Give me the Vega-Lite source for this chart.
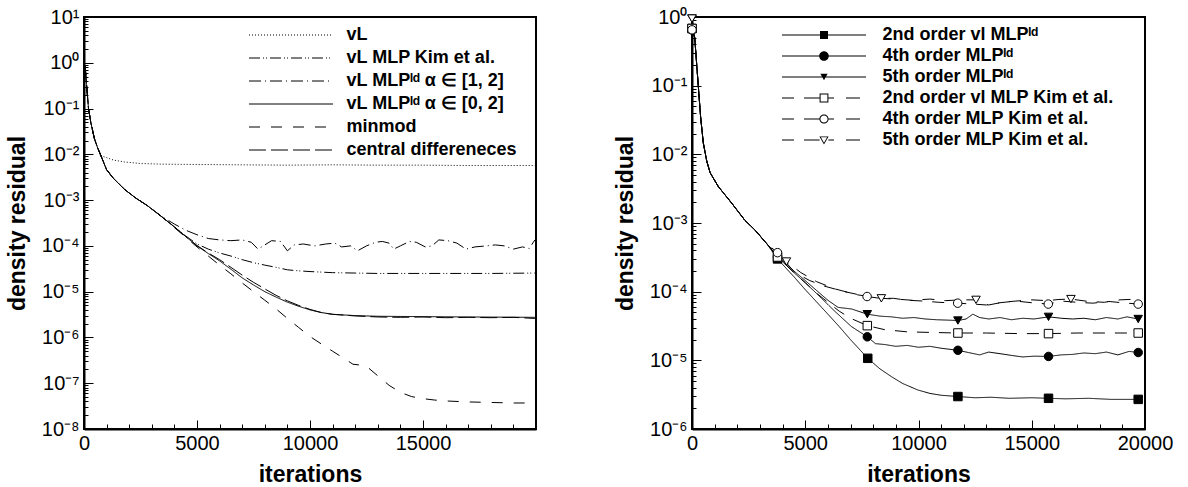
{
  "$schema": "https://vega.github.io/schema/vega-lite/v6.json",
  "padding": {"left": 5, "top": 6, "right": 0, "bottom": 0},
  "spacing": 75,
  "resolve": {
    "scale": {"strokeDash": "independent", "shape": "independent", "fill": "independent"},
    "legend": {"strokeDash": "independent", "shape": "independent", "fill": "independent"}
  },
  "datasets": {
    "left": [
      {"series":"vL","iter":0,"res":0.9},{"series":"vL","iter":50,"res":0.85},{"series":"vL","iter":100,"res":0.4},{"series":"vL","iter":200,"res":0.1},{"series":"vL","iter":300,"res":0.05},{"series":"vL","iter":460,"res":0.022},{"series":"vL","iter":600,"res":0.014},{"series":"vL","iter":750,"res":0.0093},{"series":"vL","iter":1000,"res":0.0085},{"series":"vL","iter":1300,"res":0.0075},{"series":"vL","iter":1800,"res":0.0068},{"series":"vL","iter":2500,"res":0.0063},{"series":"vL","iter":3500,"res":0.0061},{"series":"vL","iter":5000,"res":0.006},{"series":"vL","iter":7000,"res":0.0059},{"series":"vL","iter":9000,"res":0.0058},{"series":"vL","iter":11000,"res":0.0059},{"series":"vL","iter":13000,"res":0.0058},{"series":"vL","iter":15000,"res":0.0058},{"series":"vL","iter":17000,"res":0.0057},{"series":"vL","iter":19950,"res":0.0057},

      {"series":"vL MLP Kim et al.","iter":0,"res":0.9},{"series":"vL MLP Kim et al.","iter":50,"res":0.85},{"series":"vL MLP Kim et al.","iter":100,"res":0.4},{"series":"vL MLP Kim et al.","iter":200,"res":0.1},{"series":"vL MLP Kim et al.","iter":300,"res":0.05},{"series":"vL MLP Kim et al.","iter":460,"res":0.022},{"series":"vL MLP Kim et al.","iter":600,"res":0.014},{"series":"vL MLP Kim et al.","iter":750,"res":0.0093},{"series":"vL MLP Kim et al.","iter":1000,"res":0.0046},{"series":"vL MLP Kim et al.","iter":1300,"res":0.003},{"series":"vL MLP Kim et al.","iter":1800,"res":0.0017},{"series":"vL MLP Kim et al.","iter":2300,"res":0.0011},{"series":"vL MLP Kim et al.","iter":2800,"res":0.00076},{"series":"vL MLP Kim et al.","iter":3400,"res":0.00045},{"series":"vL MLP Kim et al.","iter":4000,"res":0.00026},{"series":"vL MLP Kim et al.","iter":4500,"res":0.000165},{"series":"vL MLP Kim et al.","iter":5000,"res":0.00011},{"series":"vL MLP Kim et al.","iter":5500,"res":8.5e-5},{"series":"vL MLP Kim et al.","iter":6000,"res":7e-5},{"series":"vL MLP Kim et al.","iter":6500,"res":6e-5},{"series":"vL MLP Kim et al.","iter":7000,"res":5e-5},{"series":"vL MLP Kim et al.","iter":7500,"res":4.3e-5},{"series":"vL MLP Kim et al.","iter":8000,"res":3.8e-5},{"series":"vL MLP Kim et al.","iter":8500,"res":3.4e-5},{"series":"vL MLP Kim et al.","iter":9000,"res":3.0e-5},{"series":"vL MLP Kim et al.","iter":9500,"res":2.85e-5},{"series":"vL MLP Kim et al.","iter":10000,"res":2.75e-5},{"series":"vL MLP Kim et al.","iter":11000,"res":2.6e-5},{"series":"vL MLP Kim et al.","iter":12000,"res":2.55e-5},{"series":"vL MLP Kim et al.","iter":13000,"res":2.5e-5},{"series":"vL MLP Kim et al.","iter":14000,"res":2.5e-5},{"series":"vL MLP Kim et al.","iter":16000,"res":2.5e-5},{"series":"vL MLP Kim et al.","iter":18000,"res":2.5e-5},{"series":"vL MLP Kim et al.","iter":19950,"res":2.55e-5},

      {"series":"vL MLPˡᵈ  α ∈ [1, 2]","iter":0,"res":0.9},{"series":"vL MLPˡᵈ  α ∈ [1, 2]","iter":50,"res":0.85},{"series":"vL MLPˡᵈ  α ∈ [1, 2]","iter":100,"res":0.4},{"series":"vL MLPˡᵈ  α ∈ [1, 2]","iter":200,"res":0.1},{"series":"vL MLPˡᵈ  α ∈ [1, 2]","iter":300,"res":0.05},{"series":"vL MLPˡᵈ  α ∈ [1, 2]","iter":460,"res":0.022},{"series":"vL MLPˡᵈ  α ∈ [1, 2]","iter":600,"res":0.014},{"series":"vL MLPˡᵈ  α ∈ [1, 2]","iter":750,"res":0.0093},{"series":"vL MLPˡᵈ  α ∈ [1, 2]","iter":1000,"res":0.0046},{"series":"vL MLPˡᵈ  α ∈ [1, 2]","iter":1300,"res":0.003},{"series":"vL MLPˡᵈ  α ∈ [1, 2]","iter":1800,"res":0.0017},{"series":"vL MLPˡᵈ  α ∈ [1, 2]","iter":2300,"res":0.0011},{"series":"vL MLPˡᵈ  α ∈ [1, 2]","iter":2800,"res":0.00076},{"series":"vL MLPˡᵈ  α ∈ [1, 2]","iter":3400,"res":0.00045},{"series":"vL MLPˡᵈ  α ∈ [1, 2]","iter":4000,"res":0.0003},{"series":"vL MLPˡᵈ  α ∈ [1, 2]","iter":4500,"res":0.00022},{"series":"vL MLPˡᵈ  α ∈ [1, 2]","iter":5000,"res":0.000175},{"series":"vL MLPˡᵈ  α ∈ [1, 2]","iter":5500,"res":0.000145},{"series":"vL MLPˡᵈ  α ∈ [1, 2]","iter":6000,"res":0.000135},{"series":"vL MLPˡᵈ  α ∈ [1, 2]","iter":6500,"res":0.00013},{"series":"vL MLPˡᵈ  α ∈ [1, 2]","iter":7000,"res":0.000135},{"series":"vL MLPˡᵈ  α ∈ [1, 2]","iter":7400,"res":0.00012},{"series":"vL MLPˡᵈ  α ∈ [1, 2]","iter":7700,"res":8.5e-5},{"series":"vL MLPˡᵈ  α ∈ [1, 2]","iter":8000,"res":0.000105},{"series":"vL MLPˡᵈ  α ∈ [1, 2]","iter":8300,"res":0.00013},{"series":"vL MLPˡᵈ  α ∈ [1, 2]","iter":8700,"res":0.000125},{"series":"vL MLPˡᵈ  α ∈ [1, 2]","iter":9000,"res":7.8e-5},{"series":"vL MLPˡᵈ  α ∈ [1, 2]","iter":9300,"res":0.000105},{"series":"vL MLPˡᵈ  α ∈ [1, 2]","iter":9700,"res":0.00011},{"series":"vL MLPˡᵈ  α ∈ [1, 2]","iter":10200,"res":0.0001},{"series":"vL MLPˡᵈ  α ∈ [1, 2]","iter":10700,"res":0.00011},{"series":"vL MLPˡᵈ  α ∈ [1, 2]","iter":11100,"res":0.000115},{"series":"vL MLPˡᵈ  α ∈ [1, 2]","iter":11400,"res":9.5e-5},{"series":"vL MLPˡᵈ  α ∈ [1, 2]","iter":11800,"res":0.0001},{"series":"vL MLPˡᵈ  α ∈ [1, 2]","iter":12100,"res":7.8e-5},{"series":"vL MLPˡᵈ  α ∈ [1, 2]","iter":12500,"res":0.0001},{"series":"vL MLPˡᵈ  α ∈ [1, 2]","iter":12900,"res":0.00012},{"series":"vL MLPˡᵈ  α ∈ [1, 2]","iter":13200,"res":0.000125},{"series":"vL MLPˡᵈ  α ∈ [1, 2]","iter":13500,"res":0.000115},{"series":"vL MLPˡᵈ  α ∈ [1, 2]","iter":13700,"res":8.5e-5},{"series":"vL MLPˡᵈ  α ∈ [1, 2]","iter":14000,"res":0.0001},{"series":"vL MLPˡᵈ  α ∈ [1, 2]","iter":14400,"res":0.000125},{"series":"vL MLPˡᵈ  α ∈ [1, 2]","iter":14700,"res":0.00012},{"series":"vL MLPˡᵈ  α ∈ [1, 2]","iter":15100,"res":9.5e-5},{"series":"vL MLPˡᵈ  α ∈ [1, 2]","iter":15400,"res":0.0001},{"series":"vL MLPˡᵈ  α ∈ [1, 2]","iter":15700,"res":0.000135},{"series":"vL MLPˡᵈ  α ∈ [1, 2]","iter":16100,"res":0.00013},{"series":"vL MLPˡᵈ  α ∈ [1, 2]","iter":16500,"res":0.000115},{"series":"vL MLPˡᵈ  α ∈ [1, 2]","iter":16900,"res":8.5e-5},{"series":"vL MLPˡᵈ  α ∈ [1, 2]","iter":17300,"res":9.5e-5},{"series":"vL MLPˡᵈ  α ∈ [1, 2]","iter":17800,"res":0.0001},{"series":"vL MLPˡᵈ  α ∈ [1, 2]","iter":18200,"res":0.000105},{"series":"vL MLPˡᵈ  α ∈ [1, 2]","iter":18600,"res":0.0001},{"series":"vL MLPˡᵈ  α ∈ [1, 2]","iter":19000,"res":8.5e-5},{"series":"vL MLPˡᵈ  α ∈ [1, 2]","iter":19400,"res":9.5e-5},{"series":"vL MLPˡᵈ  α ∈ [1, 2]","iter":19700,"res":8.8e-5},{"series":"vL MLPˡᵈ  α ∈ [1, 2]","iter":19950,"res":0.000135},

      {"series":"vL MLPˡᵈ  α ∈ [0, 2]","iter":0,"res":0.9},{"series":"vL MLPˡᵈ  α ∈ [0, 2]","iter":50,"res":0.85},{"series":"vL MLPˡᵈ  α ∈ [0, 2]","iter":100,"res":0.4},{"series":"vL MLPˡᵈ  α ∈ [0, 2]","iter":200,"res":0.1},{"series":"vL MLPˡᵈ  α ∈ [0, 2]","iter":300,"res":0.05},{"series":"vL MLPˡᵈ  α ∈ [0, 2]","iter":460,"res":0.022},{"series":"vL MLPˡᵈ  α ∈ [0, 2]","iter":600,"res":0.014},{"series":"vL MLPˡᵈ  α ∈ [0, 2]","iter":750,"res":0.0093},{"series":"vL MLPˡᵈ  α ∈ [0, 2]","iter":1000,"res":0.0046},{"series":"vL MLPˡᵈ  α ∈ [0, 2]","iter":1300,"res":0.003},{"series":"vL MLPˡᵈ  α ∈ [0, 2]","iter":1800,"res":0.0017},{"series":"vL MLPˡᵈ  α ∈ [0, 2]","iter":2300,"res":0.0011},{"series":"vL MLPˡᵈ  α ∈ [0, 2]","iter":2800,"res":0.00076},{"series":"vL MLPˡᵈ  α ∈ [0, 2]","iter":3400,"res":0.00045},{"series":"vL MLPˡᵈ  α ∈ [0, 2]","iter":4000,"res":0.00026},{"series":"vL MLPˡᵈ  α ∈ [0, 2]","iter":4500,"res":0.00016},{"series":"vL MLPˡᵈ  α ∈ [0, 2]","iter":5000,"res":0.0001},{"series":"vL MLPˡᵈ  α ∈ [0, 2]","iter":5500,"res":6.8e-5},{"series":"vL MLPˡᵈ  α ∈ [0, 2]","iter":6000,"res":4.7e-5},{"series":"vL MLPˡᵈ  α ∈ [0, 2]","iter":6500,"res":3.1e-5},{"series":"vL MLPˡᵈ  α ∈ [0, 2]","iter":7000,"res":2e-5},{"series":"vL MLPˡᵈ  α ∈ [0, 2]","iter":7500,"res":1.4e-5},{"series":"vL MLPˡᵈ  α ∈ [0, 2]","iter":8000,"res":1e-5},{"series":"vL MLPˡᵈ  α ∈ [0, 2]","iter":8500,"res":7.6e-6},{"series":"vL MLPˡᵈ  α ∈ [0, 2]","iter":9000,"res":5.9e-6},{"series":"vL MLPˡᵈ  α ∈ [0, 2]","iter":9500,"res":4.8e-6},{"series":"vL MLPˡᵈ  α ∈ [0, 2]","iter":10000,"res":4e-6},{"series":"vL MLPˡᵈ  α ∈ [0, 2]","iter":10500,"res":3.5e-6},{"series":"vL MLPˡᵈ  α ∈ [0, 2]","iter":11000,"res":3.2e-6},{"series":"vL MLPˡᵈ  α ∈ [0, 2]","iter":12000,"res":3e-6},{"series":"vL MLPˡᵈ  α ∈ [0, 2]","iter":13000,"res":2.9e-6},{"series":"vL MLPˡᵈ  α ∈ [0, 2]","iter":15000,"res":2.85e-6},{"series":"vL MLPˡᵈ  α ∈ [0, 2]","iter":17000,"res":2.8e-6},{"series":"vL MLPˡᵈ  α ∈ [0, 2]","iter":19950,"res":2.75e-6},

      {"series":"minmod","iter":0,"res":0.9},{"series":"minmod","iter":50,"res":0.85},{"series":"minmod","iter":100,"res":0.4},{"series":"minmod","iter":200,"res":0.1},{"series":"minmod","iter":300,"res":0.05},{"series":"minmod","iter":460,"res":0.022},{"series":"minmod","iter":600,"res":0.014},{"series":"minmod","iter":750,"res":0.0093},{"series":"minmod","iter":1000,"res":0.0046},{"series":"minmod","iter":1300,"res":0.003},{"series":"minmod","iter":1800,"res":0.0017},{"series":"minmod","iter":2300,"res":0.0011},{"series":"minmod","iter":2800,"res":0.00076},{"series":"minmod","iter":3400,"res":0.00045},{"series":"minmod","iter":4000,"res":0.00025},{"series":"minmod","iter":4500,"res":0.000155},{"series":"minmod","iter":5000,"res":9.5e-5},{"series":"minmod","iter":5500,"res":6e-5},{"series":"minmod","iter":6000,"res":3.8e-5},{"series":"minmod","iter":6500,"res":2.45e-5},{"series":"minmod","iter":7000,"res":1.55e-5},{"series":"minmod","iter":7500,"res":1e-5},{"series":"minmod","iter":8000,"res":6.5e-6},{"series":"minmod","iter":8500,"res":4.2e-6},{"series":"minmod","iter":9000,"res":2.6e-6},{"series":"minmod","iter":9500,"res":1.65e-6},{"series":"minmod","iter":10000,"res":1.05e-6},{"series":"minmod","iter":10500,"res":7.2e-7},{"series":"minmod","iter":11000,"res":5e-7},{"series":"minmod","iter":11500,"res":3.5e-7},{"series":"minmod","iter":11900,"res":2.6e-7},{"series":"minmod","iter":12200,"res":2.5e-7},{"series":"minmod","iter":12500,"res":2.35e-7},{"series":"minmod","iter":13000,"res":1.45e-7},{"series":"minmod","iter":13500,"res":9e-8},{"series":"minmod","iter":14000,"res":6.3e-8},{"series":"minmod","iter":14500,"res":5.1e-8},{"series":"minmod","iter":15000,"res":4.6e-8},{"series":"minmod","iter":15500,"res":4.3e-8},{"series":"minmod","iter":16000,"res":4.1e-8},{"series":"minmod","iter":17000,"res":3.9e-8},{"series":"minmod","iter":18000,"res":3.8e-8},{"series":"minmod","iter":19000,"res":3.7e-8},{"series":"minmod","iter":19700,"res":3.7e-8},

      {"series":"central differeneces","iter":0,"res":0.9},{"series":"central differeneces","iter":50,"res":0.85},{"series":"central differeneces","iter":100,"res":0.4},{"series":"central differeneces","iter":200,"res":0.1},{"series":"central differeneces","iter":300,"res":0.05},{"series":"central differeneces","iter":460,"res":0.022},{"series":"central differeneces","iter":600,"res":0.014},{"series":"central differeneces","iter":750,"res":0.0093},{"series":"central differeneces","iter":1000,"res":0.0046},{"series":"central differeneces","iter":1300,"res":0.003},{"series":"central differeneces","iter":1800,"res":0.0017},{"series":"central differeneces","iter":2300,"res":0.0011},{"series":"central differeneces","iter":2800,"res":0.00076},{"series":"central differeneces","iter":3400,"res":0.00045},{"series":"central differeneces","iter":4000,"res":0.00026},{"series":"central differeneces","iter":4500,"res":0.00016},{"series":"central differeneces","iter":5000,"res":0.000102},{"series":"central differeneces","iter":5500,"res":7e-5},{"series":"central differeneces","iter":6000,"res":5e-5},{"series":"central differeneces","iter":6500,"res":3.4e-5},{"series":"central differeneces","iter":7000,"res":2.3e-5},{"series":"central differeneces","iter":7500,"res":1.6e-5},{"series":"central differeneces","iter":8000,"res":1.15e-5},{"series":"central differeneces","iter":8500,"res":8.3e-6},{"series":"central differeneces","iter":9000,"res":6.3e-6},{"series":"central differeneces","iter":9500,"res":5e-6},{"series":"central differeneces","iter":10000,"res":4.1e-6},{"series":"central differeneces","iter":10500,"res":3.5e-6},{"series":"central differeneces","iter":11000,"res":3.2e-6},{"series":"central differeneces","iter":12000,"res":2.95e-6},{"series":"central differeneces","iter":13000,"res":2.8e-6},{"series":"central differeneces","iter":14000,"res":2.75e-6},{"series":"central differeneces","iter":15000,"res":2.8e-6},{"series":"central differeneces","iter":16000,"res":2.7e-6},{"series":"central differeneces","iter":17000,"res":2.75e-6},{"series":"central differeneces","iter":18000,"res":2.7e-6},{"series":"central differeneces","iter":19000,"res":2.75e-6},{"series":"central differeneces","iter":19950,"res":2.6e-6}
    ],
    "right": [
      {"series":"2nd order vl MLPˡᵈ","iter":0,"res":0.68},{"series":"2nd order vl MLPˡᵈ","iter":120,"res":0.5},{"series":"2nd order vl MLPˡᵈ","iter":200,"res":0.22},{"series":"2nd order vl MLPˡᵈ","iter":280,"res":0.097},{"series":"2nd order vl MLPˡᵈ","iter":380,"res":0.035},{"series":"2nd order vl MLPˡᵈ","iter":500,"res":0.0146},{"series":"2nd order vl MLPˡᵈ","iter":650,"res":0.008},{"series":"2nd order vl MLPˡᵈ","iter":800,"res":0.0054},{"series":"2nd order vl MLPˡᵈ","iter":1160,"res":0.0034},{"series":"2nd order vl MLPˡᵈ","iter":1750,"res":0.00195},{"series":"2nd order vl MLPˡᵈ","iter":2330,"res":0.0011},{"series":"2nd order vl MLPˡᵈ","iter":2780,"res":0.00079},{"series":"2nd order vl MLPˡᵈ","iter":3300,"res":0.0005},{"series":"2nd order vl MLPˡᵈ","iter":3775,"res":0.0003},{"series":"2nd order vl MLPˡᵈ","iter":4500,"res":0.000165},{"series":"2nd order vl MLPˡᵈ","iter":5000,"res":0.000107},{"series":"2nd order vl MLPˡᵈ","iter":5500,"res":7.1e-5},{"series":"2nd order vl MLPˡᵈ","iter":6000,"res":4.7e-5},{"series":"2nd order vl MLPˡᵈ","iter":6500,"res":3.1e-5},{"series":"2nd order vl MLPˡᵈ","iter":7000,"res":2e-5},{"series":"2nd order vl MLPˡᵈ","iter":7760,"res":1.07e-5},{"series":"2nd order vl MLPˡᵈ","iter":8300,"res":7.5e-6},{"series":"2nd order vl MLPˡᵈ","iter":8800,"res":5.8e-6},{"series":"2nd order vl MLPˡᵈ","iter":9300,"res":4.6e-6},{"series":"2nd order vl MLPˡᵈ","iter":9970,"res":3.7e-6},{"series":"2nd order vl MLPˡᵈ","iter":10500,"res":3.3e-6},{"series":"2nd order vl MLPˡᵈ","iter":11000,"res":3.1e-6},{"series":"2nd order vl MLPˡᵈ","iter":11740,"res":2.97e-6},{"series":"2nd order vl MLPˡᵈ","iter":12500,"res":2.85e-6},{"series":"2nd order vl MLPˡᵈ","iter":13200,"res":2.9e-6},{"series":"2nd order vl MLPˡᵈ","iter":14000,"res":2.8e-6},{"series":"2nd order vl MLPˡᵈ","iter":15000,"res":2.85e-6},{"series":"2nd order vl MLPˡᵈ","iter":15740,"res":2.8e-6},{"series":"2nd order vl MLPˡᵈ","iter":16500,"res":2.75e-6},{"series":"2nd order vl MLPˡᵈ","iter":17500,"res":2.8e-6},{"series":"2nd order vl MLPˡᵈ","iter":18500,"res":2.7e-6},{"series":"2nd order vl MLPˡᵈ","iter":19700,"res":2.7e-6},

      {"series":"4th order MLPˡᵈ","iter":0,"res":0.65},{"series":"4th order MLPˡᵈ","iter":120,"res":0.5},{"series":"4th order MLPˡᵈ","iter":200,"res":0.22},{"series":"4th order MLPˡᵈ","iter":280,"res":0.097},{"series":"4th order MLPˡᵈ","iter":380,"res":0.035},{"series":"4th order MLPˡᵈ","iter":500,"res":0.0146},{"series":"4th order MLPˡᵈ","iter":650,"res":0.008},{"series":"4th order MLPˡᵈ","iter":800,"res":0.0054},{"series":"4th order MLPˡᵈ","iter":1160,"res":0.0034},{"series":"4th order MLPˡᵈ","iter":1750,"res":0.00195},{"series":"4th order MLPˡᵈ","iter":2330,"res":0.0011},{"series":"4th order MLPˡᵈ","iter":2780,"res":0.00079},{"series":"4th order MLPˡᵈ","iter":3300,"res":0.0005},{"series":"4th order MLPˡᵈ","iter":3775,"res":0.00032},{"series":"4th order MLPˡᵈ","iter":4500,"res":0.00019},{"series":"4th order MLPˡᵈ","iter":5000,"res":0.000135},{"series":"4th order MLPˡᵈ","iter":5560,"res":9e-5},{"series":"4th order MLPˡᵈ","iter":6300,"res":5.2e-5},{"series":"4th order MLPˡᵈ","iter":7040,"res":3.1e-5},{"series":"4th order MLPˡᵈ","iter":7740,"res":2.2e-5},{"series":"4th order MLPˡᵈ","iter":8100,"res":1.75e-5},{"series":"4th order MLPˡᵈ","iter":8500,"res":1.7e-5},{"series":"4th order MLPˡᵈ","iter":9000,"res":1.6e-5},{"series":"4th order MLPˡᵈ","iter":9500,"res":1.65e-5},{"series":"4th order MLPˡᵈ","iter":10000,"res":1.55e-5},{"series":"4th order MLPˡᵈ","iter":10500,"res":1.6e-5},{"series":"4th order MLPˡᵈ","iter":11000,"res":1.5e-5},{"series":"4th order MLPˡᵈ","iter":11740,"res":1.4e-5},{"series":"4th order MLPˡᵈ","iter":12200,"res":1.3e-5},{"series":"4th order MLPˡᵈ","iter":12700,"res":1.2e-5},{"series":"4th order MLPˡᵈ","iter":13100,"res":1.32e-5},{"series":"4th order MLPˡᵈ","iter":13600,"res":1.25e-5},{"series":"4th order MLPˡᵈ","iter":14100,"res":1.18e-5},{"series":"4th order MLPˡᵈ","iter":14600,"res":1.12e-5},{"series":"4th order MLPˡᵈ","iter":15100,"res":1.15e-5},{"series":"4th order MLPˡᵈ","iter":15740,"res":1.14e-5},{"series":"4th order MLPˡᵈ","iter":16300,"res":1.2e-5},{"series":"4th order MLPˡᵈ","iter":16800,"res":1.22e-5},{"series":"4th order MLPˡᵈ","iter":17300,"res":1.28e-5},{"series":"4th order MLPˡᵈ","iter":17800,"res":1.25e-5},{"series":"4th order MLPˡᵈ","iter":18300,"res":1.32e-5},{"series":"4th order MLPˡᵈ","iter":18800,"res":1.2e-5},{"series":"4th order MLPˡᵈ","iter":19300,"res":1.35e-5},{"series":"4th order MLPˡᵈ","iter":19700,"res":1.3e-5},

      {"series":"5th order MLPˡᵈ","iter":0,"res":0.95},{"series":"5th order MLPˡᵈ","iter":120,"res":0.5},{"series":"5th order MLPˡᵈ","iter":200,"res":0.22},{"series":"5th order MLPˡᵈ","iter":280,"res":0.097},{"series":"5th order MLPˡᵈ","iter":380,"res":0.035},{"series":"5th order MLPˡᵈ","iter":500,"res":0.0146},{"series":"5th order MLPˡᵈ","iter":650,"res":0.008},{"series":"5th order MLPˡᵈ","iter":800,"res":0.0054},{"series":"5th order MLPˡᵈ","iter":1160,"res":0.0034},{"series":"5th order MLPˡᵈ","iter":1750,"res":0.00195},{"series":"5th order MLPˡᵈ","iter":2330,"res":0.0011},{"series":"5th order MLPˡᵈ","iter":2780,"res":0.00079},{"series":"5th order MLPˡᵈ","iter":3300,"res":0.0005},{"series":"5th order MLPˡᵈ","iter":3775,"res":0.00033},{"series":"5th order MLPˡᵈ","iter":4500,"res":0.0002},{"series":"5th order MLPˡᵈ","iter":5000,"res":0.000145},{"series":"5th order MLPˡᵈ","iter":5560,"res":0.0001},{"series":"5th order MLPˡᵈ","iter":6000,"res":7.5e-5},{"series":"5th order MLPˡᵈ","iter":6450,"res":5.9e-5},{"series":"5th order MLPˡᵈ","iter":7040,"res":5.6e-5},{"series":"5th order MLPˡᵈ","iter":7740,"res":4.7e-5},{"series":"5th order MLPˡᵈ","iter":8300,"res":4.4e-5},{"series":"5th order MLPˡᵈ","iter":8800,"res":4.3e-5},{"series":"5th order MLPˡᵈ","iter":9300,"res":4.1e-5},{"series":"5th order MLPˡᵈ","iter":9800,"res":4.2e-5},{"series":"5th order MLPˡᵈ","iter":10300,"res":4e-5},{"series":"5th order MLPˡᵈ","iter":10800,"res":3.9e-5},{"series":"5th order MLPˡᵈ","iter":11300,"res":3.85e-5},{"series":"5th order MLPˡᵈ","iter":11740,"res":3.8e-5},{"series":"5th order MLPˡᵈ","iter":12100,"res":4e-5},{"series":"5th order MLPˡᵈ","iter":12400,"res":4.7e-5},{"series":"5th order MLPˡᵈ","iter":12700,"res":4.2e-5},{"series":"5th order MLPˡᵈ","iter":13100,"res":4e-5},{"series":"5th order MLPˡᵈ","iter":13600,"res":4.2e-5},{"series":"5th order MLPˡᵈ","iter":14100,"res":3.9e-5},{"series":"5th order MLPˡᵈ","iter":14600,"res":4.1e-5},{"series":"5th order MLPˡᵈ","iter":15100,"res":4e-5},{"series":"5th order MLPˡᵈ","iter":15740,"res":4.3e-5},{"series":"5th order MLPˡᵈ","iter":16300,"res":4.1e-5},{"series":"5th order MLPˡᵈ","iter":16800,"res":4e-5},{"series":"5th order MLPˡᵈ","iter":17300,"res":4.1e-5},{"series":"5th order MLPˡᵈ","iter":17800,"res":3.9e-5},{"series":"5th order MLPˡᵈ","iter":18300,"res":4.2e-5},{"series":"5th order MLPˡᵈ","iter":18800,"res":4e-5},{"series":"5th order MLPˡᵈ","iter":19200,"res":4.3e-5},{"series":"5th order MLPˡᵈ","iter":19700,"res":4e-5},

      {"series":"2nd order vl MLP Kim et al.","iter":0,"res":0.68},{"series":"2nd order vl MLP Kim et al.","iter":120,"res":0.5},{"series":"2nd order vl MLP Kim et al.","iter":200,"res":0.22},{"series":"2nd order vl MLP Kim et al.","iter":280,"res":0.097},{"series":"2nd order vl MLP Kim et al.","iter":380,"res":0.035},{"series":"2nd order vl MLP Kim et al.","iter":500,"res":0.0146},{"series":"2nd order vl MLP Kim et al.","iter":650,"res":0.008},{"series":"2nd order vl MLP Kim et al.","iter":800,"res":0.0054},{"series":"2nd order vl MLP Kim et al.","iter":1160,"res":0.0034},{"series":"2nd order vl MLP Kim et al.","iter":1750,"res":0.00195},{"series":"2nd order vl MLP Kim et al.","iter":2330,"res":0.0011},{"series":"2nd order vl MLP Kim et al.","iter":2780,"res":0.00079},{"series":"2nd order vl MLP Kim et al.","iter":3300,"res":0.0005},{"series":"2nd order vl MLP Kim et al.","iter":3775,"res":0.00032},{"series":"2nd order vl MLP Kim et al.","iter":4500,"res":0.00019},{"series":"2nd order vl MLP Kim et al.","iter":5000,"res":0.000135},{"series":"2nd order vl MLP Kim et al.","iter":5500,"res":9.5e-5},{"series":"2nd order vl MLP Kim et al.","iter":6000,"res":7e-5},{"series":"2nd order vl MLP Kim et al.","iter":6500,"res":5.2e-5},{"series":"2nd order vl MLP Kim et al.","iter":7000,"res":4.1e-5},{"series":"2nd order vl MLP Kim et al.","iter":7740,"res":3.2e-5},{"series":"2nd order vl MLP Kim et al.","iter":8500,"res":2.8e-5},{"series":"2nd order vl MLP Kim et al.","iter":9500,"res":2.6e-5},{"series":"2nd order vl MLP Kim et al.","iter":10500,"res":2.55e-5},{"series":"2nd order vl MLP Kim et al.","iter":11740,"res":2.5e-5},{"series":"2nd order vl MLP Kim et al.","iter":13000,"res":2.5e-5},{"series":"2nd order vl MLP Kim et al.","iter":14500,"res":2.45e-5},{"series":"2nd order vl MLP Kim et al.","iter":15740,"res":2.45e-5},{"series":"2nd order vl MLP Kim et al.","iter":17000,"res":2.5e-5},{"series":"2nd order vl MLP Kim et al.","iter":18500,"res":2.5e-5},{"series":"2nd order vl MLP Kim et al.","iter":19700,"res":2.5e-5},

      {"series":"4th order MLP Kim et al.","iter":0,"res":0.65},{"series":"4th order MLP Kim et al.","iter":120,"res":0.5},{"series":"4th order MLP Kim et al.","iter":200,"res":0.22},{"series":"4th order MLP Kim et al.","iter":280,"res":0.097},{"series":"4th order MLP Kim et al.","iter":380,"res":0.035},{"series":"4th order MLP Kim et al.","iter":500,"res":0.0146},{"series":"4th order MLP Kim et al.","iter":650,"res":0.008},{"series":"4th order MLP Kim et al.","iter":800,"res":0.0054},{"series":"4th order MLP Kim et al.","iter":1160,"res":0.0034},{"series":"4th order MLP Kim et al.","iter":1750,"res":0.00195},{"series":"4th order MLP Kim et al.","iter":2330,"res":0.0011},{"series":"4th order MLP Kim et al.","iter":2780,"res":0.00079},{"series":"4th order MLP Kim et al.","iter":3300,"res":0.0005},{"series":"4th order MLP Kim et al.","iter":3775,"res":0.00037},{"series":"4th order MLP Kim et al.","iter":4540,"res":0.00019},{"series":"4th order MLP Kim et al.","iter":5200,"res":0.000145},{"series":"4th order MLP Kim et al.","iter":5860,"res":0.00012},{"series":"4th order MLP Kim et al.","iter":6740,"res":0.0001},{"series":"4th order MLP Kim et al.","iter":7730,"res":8.5e-5},{"series":"4th order MLP Kim et al.","iter":8300,"res":8e-5},{"series":"4th order MLP Kim et al.","iter":8900,"res":8e-5},{"series":"4th order MLP Kim et al.","iter":9500,"res":7.5e-5},{"series":"4th order MLP Kim et al.","iter":10200,"res":7.3e-5},{"series":"4th order MLP Kim et al.","iter":10900,"res":7e-5},{"series":"4th order MLP Kim et al.","iter":11730,"res":6.8e-5},{"series":"4th order MLP Kim et al.","iter":12400,"res":6.6e-5},{"series":"4th order MLP Kim et al.","iter":13000,"res":6.4e-5},{"series":"4th order MLP Kim et al.","iter":13600,"res":6.9e-5},{"series":"4th order MLP Kim et al.","iter":14300,"res":7.3e-5},{"series":"4th order MLP Kim et al.","iter":15000,"res":6.9e-5},{"series":"4th order MLP Kim et al.","iter":15730,"res":6.6e-5},{"series":"4th order MLP Kim et al.","iter":16300,"res":7.3e-5},{"series":"4th order MLP Kim et al.","iter":17000,"res":7e-5},{"series":"4th order MLP Kim et al.","iter":17700,"res":6.8e-5},{"series":"4th order MLP Kim et al.","iter":18400,"res":7.2e-5},{"series":"4th order MLP Kim et al.","iter":19000,"res":6.9e-5},{"series":"4th order MLP Kim et al.","iter":19700,"res":6.6e-5},

      {"series":"5th order MLP Kim et al.","iter":0,"res":0.95},{"series":"5th order MLP Kim et al.","iter":120,"res":0.5},{"series":"5th order MLP Kim et al.","iter":200,"res":0.22},{"series":"5th order MLP Kim et al.","iter":280,"res":0.097},{"series":"5th order MLP Kim et al.","iter":380,"res":0.035},{"series":"5th order MLP Kim et al.","iter":500,"res":0.0146},{"series":"5th order MLP Kim et al.","iter":650,"res":0.008},{"series":"5th order MLP Kim et al.","iter":800,"res":0.0054},{"series":"5th order MLP Kim et al.","iter":1160,"res":0.0034},{"series":"5th order MLP Kim et al.","iter":1750,"res":0.00195},{"series":"5th order MLP Kim et al.","iter":2330,"res":0.0011},{"series":"5th order MLP Kim et al.","iter":2780,"res":0.00079},{"series":"5th order MLP Kim et al.","iter":3300,"res":0.0005},{"series":"5th order MLP Kim et al.","iter":3775,"res":0.00034},{"series":"5th order MLP Kim et al.","iter":4170,"res":0.000275},{"series":"5th order MLP Kim et al.","iter":4800,"res":0.00019},{"series":"5th order MLP Kim et al.","iter":5500,"res":0.00014},{"series":"5th order MLP Kim et al.","iter":6300,"res":0.00011},{"series":"5th order MLP Kim et al.","iter":7300,"res":9e-5},{"series":"5th order MLP Kim et al.","iter":8360,"res":8e-5},{"series":"5th order MLP Kim et al.","iter":9000,"res":7.8e-5},{"series":"5th order MLP Kim et al.","iter":9700,"res":7.5e-5},{"series":"5th order MLP Kim et al.","iter":10500,"res":7.8e-5},{"series":"5th order MLP Kim et al.","iter":11200,"res":7.4e-5},{"series":"5th order MLP Kim et al.","iter":11900,"res":7.6e-5},{"series":"5th order MLP Kim et al.","iter":12540,"res":7.6e-5},{"series":"5th order MLP Kim et al.","iter":13100,"res":6.4e-5},{"series":"5th order MLP Kim et al.","iter":13700,"res":7e-5},{"series":"5th order MLP Kim et al.","iter":14300,"res":7.3e-5},{"series":"5th order MLP Kim et al.","iter":15000,"res":7.6e-5},{"series":"5th order MLP Kim et al.","iter":15700,"res":7.4e-5},{"series":"5th order MLP Kim et al.","iter":16200,"res":7.7e-5},{"series":"5th order MLP Kim et al.","iter":16730,"res":7.8e-5},{"series":"5th order MLP Kim et al.","iter":17500,"res":7.2e-5},{"series":"5th order MLP Kim et al.","iter":18200,"res":7e-5},{"series":"5th order MLP Kim et al.","iter":18900,"res":7.6e-5},{"series":"5th order MLP Kim et al.","iter":19700,"res":7.8e-5}
    ],
    "rmark": [
      {"series":"2nd order vl MLPˡᵈ","iter":0,"res":0.68},{"series":"2nd order vl MLPˡᵈ","iter":3775,"res":0.0003},{"series":"2nd order vl MLPˡᵈ","iter":7760,"res":1.07e-5},{"series":"2nd order vl MLPˡᵈ","iter":11740,"res":2.97e-6},{"series":"2nd order vl MLPˡᵈ","iter":15740,"res":2.8e-6},{"series":"2nd order vl MLPˡᵈ","iter":19700,"res":2.7e-6},
      {"series":"4th order MLPˡᵈ","iter":0,"res":0.65},{"series":"4th order MLPˡᵈ","iter":3775,"res":0.00032},{"series":"4th order MLPˡᵈ","iter":7740,"res":2.2e-5},{"series":"4th order MLPˡᵈ","iter":11740,"res":1.4e-5},{"series":"4th order MLPˡᵈ","iter":15740,"res":1.14e-5},{"series":"4th order MLPˡᵈ","iter":19700,"res":1.3e-5},
      {"series":"5th order MLPˡᵈ","iter":0,"res":0.95},{"series":"5th order MLPˡᵈ","iter":3775,"res":0.00033},{"series":"5th order MLPˡᵈ","iter":7740,"res":4.7e-5},{"series":"5th order MLPˡᵈ","iter":11740,"res":3.8e-5},{"series":"5th order MLPˡᵈ","iter":15740,"res":4.3e-5},{"series":"5th order MLPˡᵈ","iter":19700,"res":4e-5},
      {"series":"2nd order vl MLP Kim et al.","iter":0,"res":0.68},{"series":"2nd order vl MLP Kim et al.","iter":3775,"res":0.00032},{"series":"2nd order vl MLP Kim et al.","iter":7740,"res":3.2e-5},{"series":"2nd order vl MLP Kim et al.","iter":11740,"res":2.5e-5},{"series":"2nd order vl MLP Kim et al.","iter":15740,"res":2.45e-5},{"series":"2nd order vl MLP Kim et al.","iter":19700,"res":2.5e-5},
      {"series":"4th order MLP Kim et al.","iter":0,"res":0.65},{"series":"4th order MLP Kim et al.","iter":3775,"res":0.00037},{"series":"4th order MLP Kim et al.","iter":7730,"res":8.5e-5},{"series":"4th order MLP Kim et al.","iter":11730,"res":6.8e-5},{"series":"4th order MLP Kim et al.","iter":15730,"res":6.6e-5},{"series":"4th order MLP Kim et al.","iter":19700,"res":6.6e-5},
      {"series":"5th order MLP Kim et al.","iter":0,"res":0.95},{"series":"5th order MLP Kim et al.","iter":4170,"res":0.000275},{"series":"5th order MLP Kim et al.","iter":8360,"res":8e-5},{"series":"5th order MLP Kim et al.","iter":12540,"res":7.6e-5},{"series":"5th order MLP Kim et al.","iter":16730,"res":7.8e-5}
    ]
  },
  "hconcat": [
    {
      "width": 452,
      "height": 412,
      "data": {"name": "left"},
      "mark": {"type": "line", "color": "black", "strokeWidth": 1, "clip": true},
      "encoding": {
        "x": {
          "field": "iter", "type": "quantitative",
          "scale": {"domain": [0, 20000], "nice": false, "zero": false},
          "axis": {
            "title": "iterations",
            "values": [0,1000,2000,3000,4000,5000,6000,7000,8000,9000,10000,11000,12000,13000,14000,15000,16000,17000,18000,19000,20000],
            "format": "d",
            "tickSize": {"condition": {"test": "datum.value % 5000 == 0", "value": -9}, "value": -5},
            "labelExpr": "datum.value % 5000 == 0 && datum.value < 20000 ? datum.label : ''",
            "labelPadding": 13,
            "titlePadding": 6
          }
        },
        "y": {
          "field": "res", "type": "quantitative",
          "scale": {"type": "log", "domain": [1e-8, 10], "nice": false},
          "axis": {
            "title": "density residual",
            "values": [1e-8,2e-8,3e-8,4e-8,5e-8,6e-8,7e-8,8e-8,9e-8,1e-7,2e-7,3e-7,4e-7,5e-7,6e-7,7e-7,8e-7,9e-7,1e-6,2e-6,3e-6,4e-6,5e-6,6e-6,7e-6,8e-6,9e-6,1e-5,2e-5,3e-5,4e-5,5e-5,6e-5,7e-5,8e-5,9e-5,1e-4,2e-4,3e-4,4e-4,5e-4,6e-4,7e-4,8e-4,9e-4,0.001,0.002,0.003,0.004,0.005,0.006,0.007,0.008,0.009,0.01,0.02,0.03,0.04,0.05,0.06,0.07,0.08,0.09,0.1,0.2,0.3,0.4,0.5,0.6,0.7,0.8,0.9,1,2,3,4,5,6,7,8,9,10],
            "tickSize": {"condition": {"test": "abs(log(datum.value)/LN10 - round(log(datum.value)/LN10)) < 0.001", "value": -9}, "value": -4},
            "labelExpr": "abs(log(datum.value)/LN10 - round(log(datum.value)/LN10)) < 0.001 ? '10' + (round(log(datum.value)/LN10) < 0 ? '⁻' : '') + substring('⁰¹²³⁴⁵⁶⁷⁸⁹', abs(round(log(datum.value)/LN10)), abs(round(log(datum.value)/LN10)) + 1) : ''",
            "labelPadding": 14,
            "titlePadding": 12
          }
        },
        "strokeDash": {
          "field": "series", "type": "nominal",
          "scale": {
            "domain": ["vL", "vL MLP Kim et al.", "vL MLPˡᵈ  α ∈ [1, 2]", "vL MLPˡᵈ  α ∈ [0, 2]", "minmod", "central differeneces"],
            "range": [[1, 2], [11, 3, 1, 2, 1, 3], [12, 4, 1, 4], [1, 0], [11, 11], [17, 5]]
          },
          "legend": {
            "title": null,
            "orient": "none",
            "legendX": 198,
            "legendY": 9,
            "padding": 0,
            "symbolType": "M-10.5,0H10.5",
            "symbolSize": 64,
            "symbolStrokeWidth": 1,
            "symbolStrokeColor": "black",
            "labelFont": "Liberation Sans",
            "labelFontSize": 18,
            "labelFontWeight": "bold",
            "labelColor": "black",
            "labelOffset": 46.5,
            "labelLimit": 500,
            "rowPadding": 5
          }
        }
      }
    },
    {
      "width": 453,
      "height": 412,
      "resolve": {
        "scale": {"shape": "independent", "fill": "independent"},
        "legend": {"shape": "independent", "fill": "independent"}
      },
      "encoding": {
        "x": {
          "field": "iter", "type": "quantitative",
          "scale": {"domain": [0, 20000], "nice": false, "zero": false},
          "axis": {
            "title": "iterations",
            "values": [0,1000,2000,3000,4000,5000,6000,7000,8000,9000,10000,11000,12000,13000,14000,15000,16000,17000,18000,19000,20000],
            "format": "d",
            "tickSize": {"condition": {"test": "datum.value % 5000 == 0", "value": -9}, "value": -5},
            "labelExpr": "datum.value % 5000 == 0 ? datum.label : ''",
            "labelPadding": 13,
            "titlePadding": 6
          }
        },
        "y": {
          "field": "res", "type": "quantitative",
          "scale": {"type": "log", "domain": [1e-6, 1], "nice": false},
          "axis": {
            "title": "density residual",
            "values": [1e-6,2e-6,3e-6,4e-6,5e-6,6e-6,7e-6,8e-6,9e-6,1e-5,2e-5,3e-5,4e-5,5e-5,6e-5,7e-5,8e-5,9e-5,1e-4,2e-4,3e-4,4e-4,5e-4,6e-4,7e-4,8e-4,9e-4,0.001,0.002,0.003,0.004,0.005,0.006,0.007,0.008,0.009,0.01,0.02,0.03,0.04,0.05,0.06,0.07,0.08,0.09,0.1,0.2,0.3,0.4,0.5,0.6,0.7,0.8,0.9,1],
            "tickSize": {"condition": {"test": "abs(log(datum.value)/LN10 - round(log(datum.value)/LN10)) < 0.001", "value": -9}, "value": -4},
            "labelExpr": "abs(log(datum.value)/LN10 - round(log(datum.value)/LN10)) < 0.001 ? '10' + (round(log(datum.value)/LN10) < 0 ? '⁻' : '') + substring('⁰¹²³⁴⁵⁶⁷⁸⁹', abs(round(log(datum.value)/LN10)), abs(round(log(datum.value)/LN10)) + 1) : ''",
            "labelPadding": 14,
            "titlePadding": 12
          }
        }
      },
      "layer": [
        {
          "data": {"name": "right"},
          "mark": {"type": "line", "color": "black", "strokeWidth": 1, "clip": true},
          "encoding": {
            "strokeDash": {
              "field": "series", "type": "nominal",
              "scale": {
                "domain": ["2nd order vl MLP Kim et al.", "4th order MLP Kim et al.", "5th order MLP Kim et al.", "2nd order vl MLPˡᵈ", "4th order MLPˡᵈ", "5th order MLPˡᵈ"],
                "range": [[12, 10], [12, 10], [12, 10], [1, 0], [1, 0], [1, 0]]
              },
              "legend": null
            }
          }
        },
        {
          "data": {"name": "rmark"},
          "mark": {"type": "point", "stroke": "black", "strokeWidth": 1, "opacity": 1, "size": 72},
          "encoding": {
            "shape": {
              "field": "series", "type": "nominal",
              "scale": {
                "domain": ["2nd order vl MLP Kim et al.", "4th order MLP Kim et al.", "5th order MLP Kim et al.", "2nd order vl MLPˡᵈ", "4th order MLPˡᵈ", "5th order MLPˡᵈ"],
                "range": ["square", "circle", "triangle-down", "square", "circle", "triangle-down"]
              },
              "legend": null
            },
            "fill": {
              "field": "series", "type": "nominal",
              "scale": {
                "domain": ["2nd order vl MLP Kim et al.", "4th order MLP Kim et al.", "5th order MLP Kim et al.", "2nd order vl MLPˡᵈ", "4th order MLPˡᵈ", "5th order MLPˡᵈ"],
                "range": ["white", "white", "white", "black", "black", "black"]
              },
              "legend": null
            }
          }
        },
        {
          "data": {"name": "rmark"},
          "transform": [{"filter": "datum.iter < 0"}],
          "mark": {"type": "point", "filled": true, "color": "black", "opacity": 1, "size": 64},
          "encoding": {
            "shape": {
              "field": "series", "type": "nominal",
              "scale": {
                "domain": ["2nd order vl MLPˡᵈ", "4th order MLPˡᵈ", "5th order MLPˡᵈ", "2nd order vl MLP Kim et al.", "4th order MLP Kim et al.", "5th order MLP Kim et al."],
                "range": [
                  "M-10.5,-0.125H10.5V0.125H-10.5ZM-1,-1H1V1H-1Z",
                  "M-10.5,-0.125H10.5V0.125H-10.5ZM-1.2,0A1.2,1.2,0,1,1,1.2,0A1.2,1.2,0,1,1,-1.2,0Z",
                  "M-10.5,-0.125H10.5V0.125H-10.5ZM-0.9,-0.8H0.9L0,0.8Z",
                  "M-10.5,-0.125H-7.5V0.125H-10.5ZM-5,-0.125H-1.1V0.125H-5ZM1.1,-0.125H2.5V0.125H1.1ZM5.5,-0.125H9V0.125H5.5ZM-1.1,-1.1H1.1V1.1H-1.1ZM-0.85,-0.85V0.85H0.85V-0.85Z",
                  "M-10.5,-0.125H-7.5V0.125H-10.5ZM-5,-0.125H-1.15V0.125H-5ZM1.15,-0.125H2.5V0.125H1.15ZM5.5,-0.125H9V0.125H5.5ZM-1.15,0A1.15,1.15,0,1,1,1.15,0A1.15,1.15,0,1,1,-1.15,0ZM-0.9,0A0.9,0.9,0,1,0,0.9,0A0.9,0.9,0,1,0,-0.9,0Z",
                  "M-10.5,-0.125H-7.5V0.125H-10.5ZM-5,-0.125H-1.1V0.125H-5ZM1.1,-0.125H2.5V0.125H1.1ZM5.5,-0.125H9V0.125H5.5ZM-1.15,-0.9H1.15L0,1.1ZM-0.78,-0.68L0,0.68L0.78,-0.68Z"
                ]
              },
              "legend": {
                "title": null,
                "orient": "none",
                "legendX": 123,
                "legendY": 9,
                "padding": 0,
                "symbolSize": 64,
                "symbolFillColor": "black",
                "symbolStrokeWidth": 0,
                "symbolOpacity": 1,
                "labelFont": "Liberation Sans",
                "labelFontSize": 18,
                "labelFontWeight": "bold",
                "labelColor": "black",
                "labelOffset": 49.5,
                "labelLimit": 500,
                "rowPadding": 3
              }
            }
          }
        }
      ]
    }
  ],
  "config": {
    "font": "Liberation Sans",
    "background": "white",
    "view": {"stroke": "black", "strokeWidth": 2},
    "axis": {
      "grid": false,
      "domainColor": "black",
      "domainWidth": 2,
      "tickColor": "black",
      "tickWidth": 1,
      "labelColor": "black",
      "labelFont": "Liberation Sans",
      "labelFontSize": 20,
      "labelOverlap": false,
      "labelFlush": false,
      "labelBound": false,
      "titleFont": "Liberation Sans",
      "titleFontSize": 23,
      "titleFontWeight": "bold",
      "titleColor": "black"
    }
  }
}
